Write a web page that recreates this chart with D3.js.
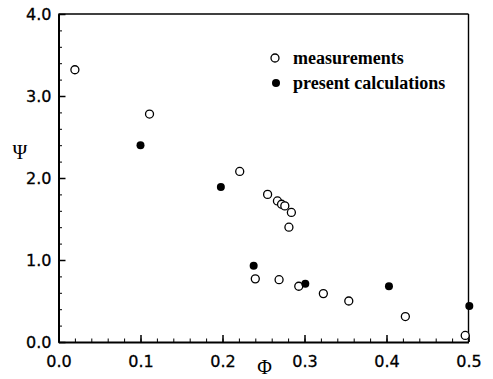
<!DOCTYPE html>
<html>
<head>
<meta charset="utf-8">
<script src="https://cdn.jsdelivr.net/npm/d3@7"></script>
<style>
  body { margin: 0; background: #fff; }
  .axis text { font-family: "DejaVu Sans", sans-serif; font-size: 16px; fill: #000; stroke: #000; stroke-width: 0.3px; }
  .axis path, .axis line { stroke: #000; }
</style>
</head>
<body>
<svg width="493" height="379"></svg>
<script>
// measured points (open circles)
let measPhi = [0.020, 0.111, 0.221, 0.255, 0.267, 0.272, 0.276, 0.284, 0.281,
               0.240, 0.269, 0.293, 0.323, 0.354, 0.423, 0.496]
let measPsi = [3.32, 2.78, 2.08, 1.80, 1.72, 1.68, 1.66, 1.58, 1.40,
               0.77, 0.76, 0.68, 0.59, 0.50, 0.31, 0.08]
// present calculations (filled)
let calcPhi = [0.100, 0.198, 0.238, 0.301, 0.403, 0.501]
let calcPsi = [2.40, 1.89, 0.93, 0.71, 0.68, 0.44]

let xTicks = [0, 0.1, 0.2, 0.3, 0.4, 0.5]
let yTicks = [0, 1, 2, 3, 4]
let legendLabels = ['measurements', 'present calculations']

let svg = d3.select('svg')
    margin = {top: 14, bottom: 37, left: 58.5, right: 24.5}
    width = svg.attr('width') - margin.left - margin.right
    height = svg.attr('height') - margin.top - margin.bottom

let xScale = d3.scaleLinear().domain([0, 0.5]).range([margin.left, margin.left + width]),
    yScale = d3.scaleLinear().domain([0, 4]).range([margin.top + height, margin.top])

//frame: top and right lines
svg.append('line')
    .attr('x1', margin.left).attr('x2', margin.left + width)
    .attr('y1', margin.top).attr('y2', margin.top)
    .attr('stroke', '#000').attr('stroke-width', 1.6)
svg.append('line')
    .attr('x1', margin.left + width).attr('x2', margin.left + width)
    .attr('y1', margin.top).attr('y2', margin.top + height)
    .attr('stroke', '#000').attr('stroke-width', 1.4)

//minor ticks
svg.append('g')
    .attr('class', 'axis')
    .attr('transform', 'translate(0,' + (margin.top + height) + ')')
    .call(d3.axisBottom(xScale).tickValues(d3.range(0, 0.5001, 0.02)).tickSize(-3.5).tickFormat(''))
    .call(g => g.select('.domain').remove())
svg.append('g')
    .attr('class', 'axis')
    .attr('transform', 'translate(' + margin.left + ',0)')
    .call(d3.axisLeft(yScale).tickValues(d3.range(0, 4.001, 0.2)).tickSize(-3.5).tickFormat(''))
    .call(g => g.select('.domain').remove())

//x-axis
svg.append('g')
    .attr('class', 'axis')
    .attr('transform', 'translate(0,' + (margin.top + height) + ')')
    .call(d3.axisBottom(xScale).tickValues(xTicks).tickSizeInner(-7).tickSizeOuter(0).tickPadding(13.5).tickFormat(d3.format('.1f')))
    .call(g => g.select('.domain').attr('stroke-width', 2))
    .call(g => g.selectAll('.tick line').attr('stroke-width', 1.5))

//y-axis
svg.append('g')
    .attr('class', 'axis')
    .attr('transform', 'translate(' + margin.left + ',0)')
    .call(d3.axisLeft(yScale).tickValues(yTicks).tickSizeInner(-7).tickSizeOuter(0).tickPadding(7).tickFormat(d3.format('.1f')))
    .call(g => g.select('.domain').attr('stroke-width', 2))
    .call(g => g.selectAll('.tick line').attr('stroke-width', 1.5))

//axis titles
svg.append('text')
    .attr('x', margin.left + width / 2 + 1)
    .attr('y', 374)
    .attr('text-anchor', 'middle')
    .style('font-family', '"Liberation Serif", serif')
    .style('font-size', '20px')
    .text('Φ')
svg.append('text')
    .attr('x', 20)
    .attr('y', 159)
    .attr('text-anchor', 'middle')
    .style('font-family', '"Liberation Serif", serif')
    .style('font-size', '20px')
    .text('Ψ')

//points
let meas = measPhi.map((d, i) => ({phi: d, psi: measPsi[i]}))
let calc = calcPhi.map((d, i) => ({phi: d, psi: calcPsi[i]}))

svg.selectAll('circle.meas')
    .data(meas)
    .enter()
    .append('circle')
    .attr('class', 'meas')
    .attr('cx', d => xScale(d.phi))
    .attr('cy', d => yScale(d.psi))
    .attr('r', 4)
    .attr('fill', '#fff')
    .attr('stroke', '#000')
    .attr('stroke-width', 1.3)

svg.selectAll('circle.calc')
    .data(calc)
    .enter()
    .append('circle')
    .attr('class', 'calc')
    .attr('cx', d => xScale(d.phi))
    .attr('cy', d => yScale(d.psi))
    .attr('r', 4)
    .attr('fill', '#000')

//legend
let legend = svg.append('g').attr('transform', 'translate(275,58)')
legend.append('circle')
    .attr('cx', 0).attr('cy', 0).attr('r', 4)
    .attr('fill', '#fff').attr('stroke', '#000').attr('stroke-width', 1.3)
legend.append('circle')
    .attr('cx', 1).attr('cy', 25).attr('r', 4)
    .attr('fill', '#000')
legend.selectAll('text')
    .data(legendLabels)
    .enter()
    .append('text')
    .attr('x', 18)
    .attr('y', (d, i) => 6 + i * 25)
    .style('font-family', '"Liberation Serif", serif')
    .style('font-weight', 'bold')
    .style('font-size', '18px')
    .text(d => d)
</script>
</body>
</html>
